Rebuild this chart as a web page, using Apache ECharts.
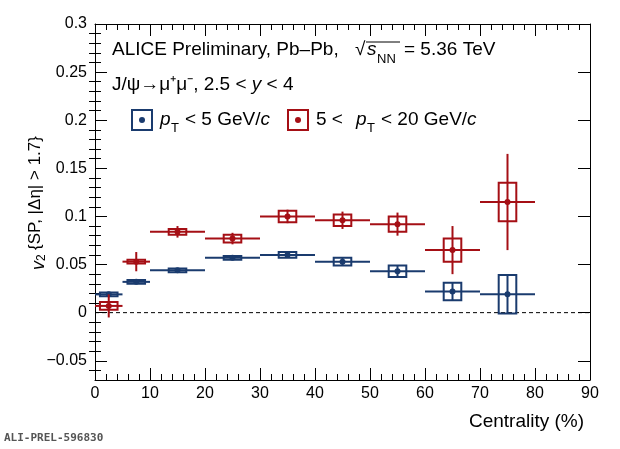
<!DOCTYPE html><html><head><meta charset="utf-8">
<script src="https://cdn.jsdelivr.net/npm/echarts@6/dist/echarts.min.js"></script>
<style>body{margin:0}#c{width:620px;height:449px}</style></head><body><div id="c"></div><script>
const centers=[2.5,7.5,15,25,35,45,55,65,75];
const halfBins=[2.5,2.5,5,5,5,5,5,5,5];
const blueV=[0.019,0.032,0.044,0.057,0.060,0.053,0.043,0.022,0.019];
const blueStat=[0.002,0.002,0.002,0.002,0.003,0.004,0.006,0.009,0.02];
const blueSys=[0.002,0.002,0.002,0.002,0.003,0.004,0.006,0.009,0.02];
const redV=[0.007,0.053,0.084,0.077,0.100,0.096,0.092,0.065,0.115];
const redStat=[0.012,0.01,0.006,0.006,0.007,0.009,0.012,0.025,0.05];
const redSys=[0.004,0.002,0.003,0.004,0.006,0.006,0.008,0.012,0.02];
const boxHalfX=1.6;
const yTicks=[-0.05,0,0.05,0.1,0.15,0.2,0.25,0.3];
const yMinor=[-0.06,-0.04,-0.03,-0.02,-0.01,0.01,0.02,0.03,0.04,0.06,0.07,0.08,0.09,0.11,0.12,0.13,0.14,0.16,0.17,0.18,0.19,0.21,0.22,0.23,0.24,0.26,0.27,0.28,0.29];
const F='Liberation Sans';
function mk(v,st,sy){return centers.map((c,i)=>[c,v[i],st[i],sy[i],halfBins[i]]);}
function ser(data,color){return{type:'custom',data,renderItem(p,api){
 const x=api.value(0),y=api.value(1),st=api.value(2),sy=api.value(3),hb=api.value(4);
 const c=api.coord([x,y]),l=api.coord([x-hb,y]),r=api.coord([x+hb,y]);
 const t=api.coord([x,y+st]),b=api.coord([x,y-st]);
 const bx1=api.coord([x-boxHalfX,y+sy]),bx2=api.coord([x+boxHalfX,y-sy]);
 const s={stroke:color,lineWidth:2,fill:null};
 return{type:'group',children:[
  {type:'rect',shape:{x:bx1[0],y:bx1[1],width:bx2[0]-bx1[0],height:bx2[1]-bx1[1]},style:{stroke:color,lineWidth:2,fill:'none'}},
  {type:'line',shape:{x1:l[0],y1:l[1],x2:r[0],y2:r[1]},style:s},
  {type:'line',shape:{x1:t[0],y1:t[1],x2:b[0],y2:b[1]},style:s},
  {type:'circle',shape:{cx:c[0],cy:c[1],r:3},style:{fill:color}}]};
}};}
const blue='#1a3b6e',red='#a50f15';
const ch=echarts.init(document.getElementById('c'));
const ax={min:0,max:90,interval:10};
const tk={inside:true,length:12,lineStyle:{color:'#000'}};
const mt={show:true,splitNumber:5,length:6,lineStyle:{color:'#000'}};
const al={onZero:false,lineStyle:{color:'#000'}};
const yb={type:'value',min:-0.07,max:0.3,splitLine:{show:false}};
ch.setOption({animation:false,
grid:{left:95,right:30,top:24,bottom:69,outerBoundsMode:'none',containLabel:false},
xAxis:[{type:'value',...ax,axisLine:al,axisTick:tk,minorTick:mt,splitLine:{show:false},axisLabel:{color:'#000',fontFamily:F,fontSize:16,margin:6}},
 {type:'value',position:'top',...ax,axisLine:al,axisTick:tk,minorTick:mt,axisLabel:{show:false},splitLine:{show:false}}],
yAxis:[{...yb,axisLine:al,
 axisTick:{...tk,customValues:yTicks},axisLabel:{customValues:yTicks,color:'#000',fontFamily:F,fontSize:16,formatter:v=>v===0?'0':String(+v.toFixed(2)).replace('-','−')}},
 {...yb,position:'right',axisLine:al,axisTick:{...tk,customValues:yTicks},axisLabel:{show:false}},
 {...yb,position:'left',axisLine:{show:false},axisTick:{...tk,length:6,customValues:yMinor},axisLabel:{show:false}},
 {...yb,position:'right',axisLine:{show:false},axisTick:{...tk,length:6,customValues:yMinor},axisLabel:{show:false}}],
series:[
 {type:'line',data:[[0,0],[90,0]],symbol:'none',lineStyle:{color:'#000',type:[4,3],width:1},silent:true,z:1},
 ser(mk(blueV,blueStat,blueSys),blue),ser(mk(redV,redStat,redSys),red)],
graphic:[
 {type:'text',x:30,y:270,rotation:Math.PI/2,style:{text:'v',font:'italic 18px '+F,fill:'#000'}},
 {type:'text',x:36,y:261,rotation:Math.PI/2,style:{text:'2',font:'12px '+F,fill:'#000'}},
 {type:'text',x:27,y:250,rotation:Math.PI/2,style:{text:'{SP, |Δη| > 1.7}',font:'17px '+F,fill:'#000'}},
 {type:'text',left:112,top:40,style:{text:'ALICE Preliminary, Pb–Pb,',font:'19px '+F,fill:'#000'}},
 {type:'text',left:355,top:40,style:{text:'√',font:'19px '+F,fill:'#000'}},
 {type:'line',shape:{x1:366,y1:42,x2:400,y2:42},style:{stroke:'#000',lineWidth:1}},
 {type:'text',left:367,top:40,style:{text:'s',font:'italic 19px '+F,fill:'#000'}},
 {type:'text',left:377,top:53,style:{text:'NN',font:'13px '+F,fill:'#000'}},
 {type:'text',left:404,top:40,style:{text:'= 5.36 TeV',font:'19px '+F,fill:'#000'}},
 {type:'text',left:112,top:75,style:{rich:{a:{font:'19px '+F},i:{font:'italic 19px '+F}},text:'{a|J/ψ→μ⁺μ⁻, 2.5 < }{i|y}{a| < 4}',fill:'#000'}},
 {type:'rect',shape:{x:132,y:110,width:20,height:20},style:{stroke:blue,lineWidth:2,fill:'none'}},
 {type:'circle',shape:{cx:142,cy:120,r:3},style:{fill:blue}},
 {type:'text',left:160,top:110,style:{text:'p',font:'italic 19px '+F,fill:'#000'}},
 {type:'text',left:171,top:122,style:{text:'T',font:'13px '+F,fill:'#000'}},
 {type:'text',left:185,top:110,style:{rich:{a:{font:'19px '+F},i:{font:'italic 19px '+F}},text:'{a|< 5 GeV/}{i|c}',fill:'#000'}},
 {type:'rect',shape:{x:288,y:110,width:20,height:20},style:{stroke:red,lineWidth:2,fill:'none'}},
 {type:'circle',shape:{cx:298,cy:120,r:3},style:{fill:red}},
 {type:'text',left:316,top:110,style:{text:'5 <',font:'19px '+F,fill:'#000'}},
 {type:'text',left:356,top:110,style:{text:'p',font:'italic 19px '+F,fill:'#000'}},
 {type:'text',left:367,top:122,style:{text:'T',font:'13px '+F,fill:'#000'}},
 {type:'text',left:381,top:110,style:{rich:{a:{font:'19px '+F},i:{font:'italic 19px '+F}},text:'{a|< 20 GeV/}{i|c}',fill:'#000'}},
 {type:'text',right:36,top:412,style:{text:'Centrality (%)',font:'19px '+F,fill:'#000'}},
 {type:'text',left:4,top:433,style:{text:'ALI-PREL-596830',font:'bold 11px "DejaVu Sans Mono"',fill:'#555'}}
]});
</script></body></html>
